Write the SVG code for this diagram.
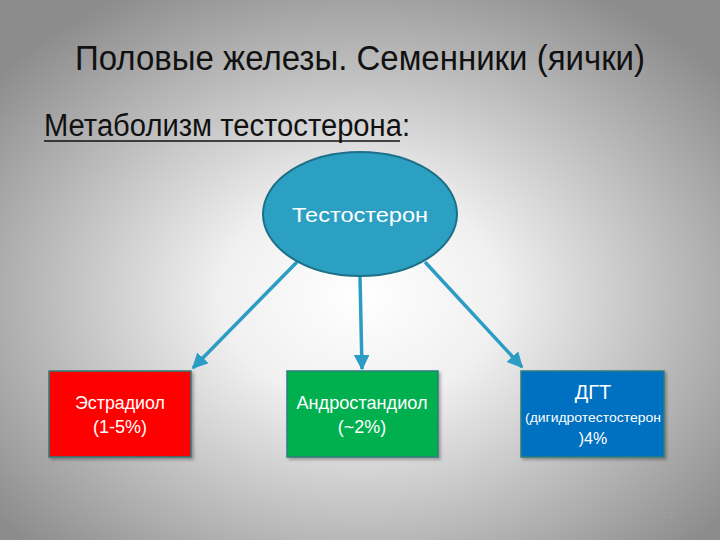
<svg xmlns="http://www.w3.org/2000/svg" width="720" height="540" viewBox="0 0 720 540">
<defs>
<radialGradient id="bg" cx="50%" cy="55%" r="65%" fx="50%" fy="55%">
<stop offset="0" stop-color="#ffffff"/>
<stop offset="0.3" stop-color="#f0f0f0"/>
<stop offset="1" stop-color="#8c8c8c"/>
</radialGradient>
<marker id="ah" viewBox="0 0 10 10" refX="9" refY="5" markerWidth="4.5" markerHeight="4.5" orient="auto" markerUnits="strokeWidth">
<path d="M0,0 L10,5 L0,10 z" fill="#2b9cc4"/>
</marker>
<filter id="sh" x="-10%" y="-10%" width="125%" height="125%">
<feDropShadow dx="2" dy="2" stdDeviation="1.5" flood-color="#000" flood-opacity="0.3"/>
</filter>
</defs>
<style>
.t{font-family:"Liberation Sans","Open Sans",sans-serif;}
.w{fill:#ffffff;text-anchor:middle;font-family:"Liberation Sans","Open Sans",sans-serif;}
.box{stroke:#2e7d7a;stroke-width:1.5;filter:url(#sh);}
.conn{stroke:#2b9cc4;stroke-width:3.5;fill:none;marker-end:url(#ah);}
</style>
<rect width="720" height="540" fill="url(#bg)"/>
<g id="title">
<text class="t" x="75" y="70" font-size="35" fill="#111" textLength="570" lengthAdjust="spacingAndGlyphs">Половые железы. Семенники (яички)</text>
</g>
<g id="subtitle">
<text class="t" x="44" y="136" font-size="31" fill="#111" textLength="366" lengthAdjust="spacingAndGlyphs">Метаболизм тестостерона:</text>
<line x1="44" y1="141" x2="400" y2="141" stroke="#111" stroke-width="1.5"/>
</g>
<g id="connectors">
<line class="conn" x1="297" y1="262" x2="193" y2="368"/>
<line class="conn" x1="360" y1="277" x2="362" y2="369"/>
<line class="conn" x1="425" y1="262" x2="522" y2="367"/>
</g>
<g id="testosterone">
<ellipse cx="360" cy="214" rx="97" ry="62" fill="#2ba0c2" stroke="#1e6f88" stroke-width="2"/>
<text class="w" x="360" y="222" font-size="21" textLength="136" lengthAdjust="spacingAndGlyphs">Тестостерон</text>
</g>
<g id="estradiol">
<rect class="box" x="49" y="371" width="142" height="86" fill="#ff0000"/>
<text class="w" x="120" y="409" font-size="18" textLength="90" lengthAdjust="spacingAndGlyphs">Эстрадиол</text>
<text class="w" x="120" y="433" font-size="18">(1-5%)</text>
</g>
<g id="androstanediol">
<rect class="box" x="287" y="371" width="151" height="86" fill="#00b050"/>
<text class="w" x="362" y="409" font-size="18" textLength="131" lengthAdjust="spacingAndGlyphs">Андростандиол</text>
<text class="w" x="362" y="433" font-size="18">(~2%)</text>
</g>
<g id="dht">
<rect class="box" x="521" y="371" width="143" height="86" fill="#0070c0"/>
<text class="w" x="593" y="399" font-size="20">ДГТ</text>
<text class="w" x="593" y="422" font-size="12.5" textLength="136" lengthAdjust="spacingAndGlyphs">(дигидротестостерон</text>
<text class="w" x="593" y="444" font-size="16">)4%</text>
</g>
<g id="page">
<text class="t" x="665" y="518" font-size="9" fill="#a0a0a0" text-anchor="middle">113</text>
</g>
</svg>
